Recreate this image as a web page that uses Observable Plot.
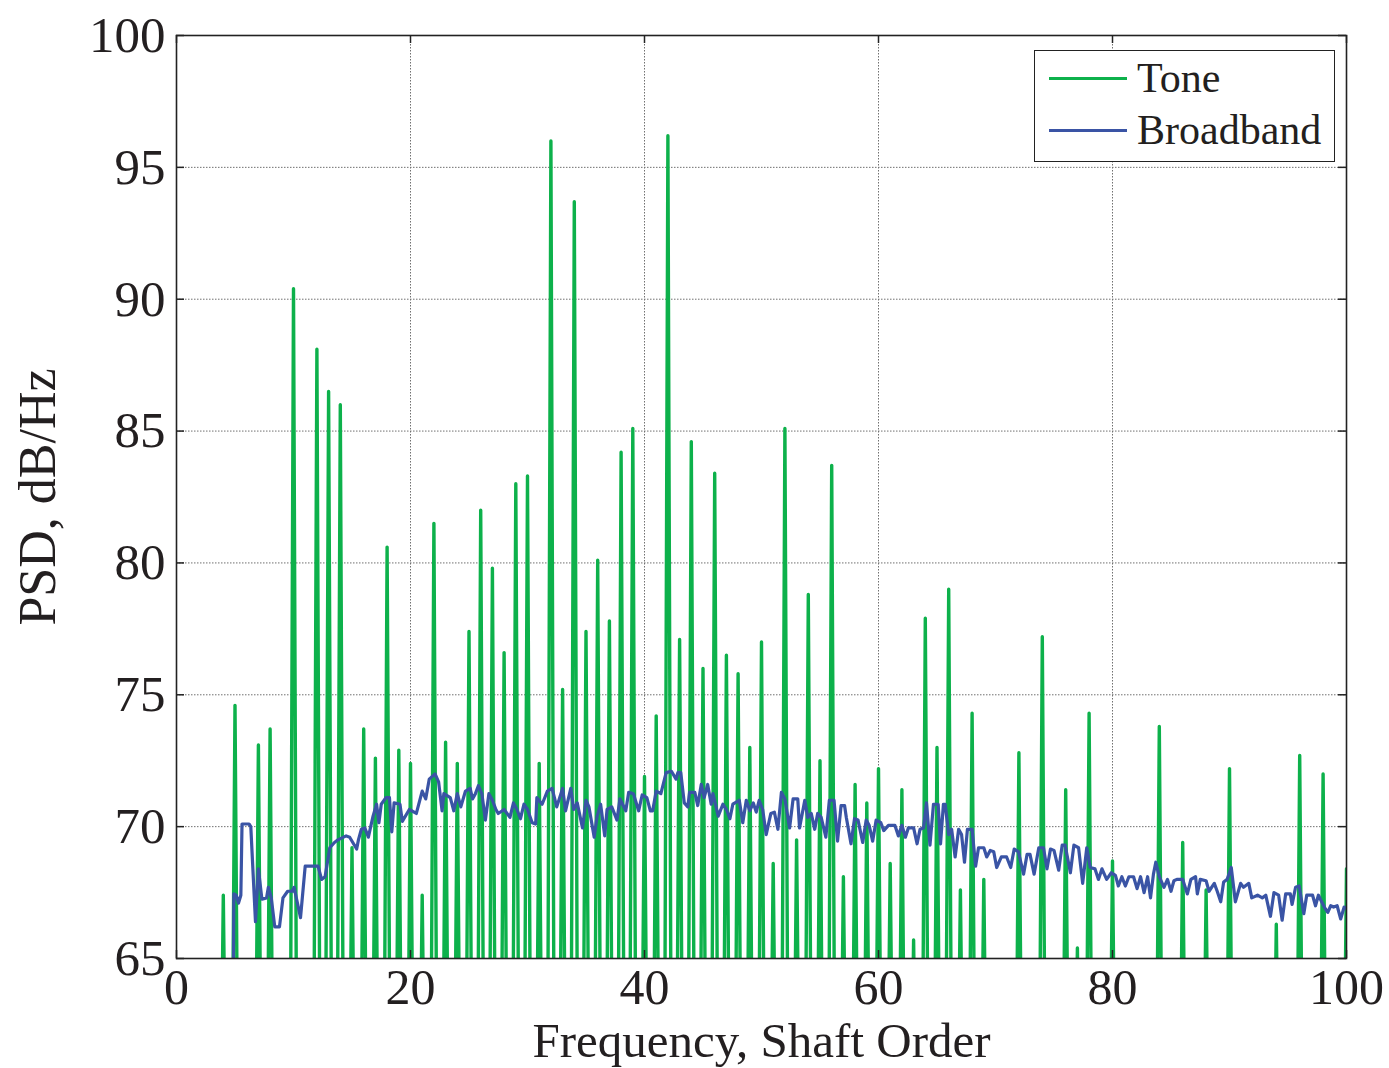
<!DOCTYPE html>
<html><head><meta charset="utf-8">
<script src="https://cdn.jsdelivr.net/npm/d3@7"></script>
<script src="https://cdn.jsdelivr.net/npm/@observablehq/plot@0.6"></script>
<style>
body{margin:0;background:#fff;}
#wrap{position:relative;width:1389px;height:1068px;overflow:hidden;}
#legend{position:absolute;left:1034px;top:50px;width:299px;height:110px;border:1.5px solid #222;background:#fff;font-family:"Liberation Serif","Times New Roman",serif;font-size:42px;color:#231f20;}
.row{position:absolute;left:0;height:52px;display:flex;align-items:center;white-space:nowrap;}
.sw{width:78px;height:0;border-top:3px solid;margin-left:14px;margin-right:10px;}
</style></head>
<body><div id="wrap"></div>
<script>
// ---- axis ticks ----
const xTicks = [0, 20, 40, 60, 80, 100];
const yTicks = [65, 70, 75, 80, 85, 90, 95, 100];
const xLabel = "Frequency, Shaft Order";
const yLabel = "PSD, dB/Hz";
const seriesNames = ["Tone", "Broadband"];
const seriesColors = ["#0db14b", "#3a54a5"];

// ---- Tone: harmonic peaks (shaft order, PSD dB/Hz); spectrum drops below 65 dB between them ----
const toneOrder = [4,5,7,8,10,12,13,14,15,16,17,18,19,20,21,22,23,24,25,26,27,28,29,30,31,32,33,34,35,36,37,38,39,40,41,42,43,44,45,46,47,48,49,50,51,52,53,54,55,56,57,58,59,60,61,62,63,64,65,66,67,68,69,72,74,76,77,78,80,84,86,88,90,94,96,98,100];
const tonePeak = [67.4,74.6,73.1,73.7,90.4,88.1,86.5,86.0,69.2,73.7,72.6,80.6,72.9,72.4,67.4,81.5,73.2,72.4,77.4,82.0,79.8,76.6,83.0,83.3,72.4,96.0,75.2,93.7,77.4,80.1,77.8,84.2,85.1,71.9,74.2,96.2,77.1,84.6,76.0,83.4,76.5,75.8,73.0,77.0,68.6,85.1,69.5,78.8,72.5,83.7,68.1,71.6,70.9,72.2,68.6,71.4,65.7,77.9,73.0,79.0,67.6,74.3,68.0,72.8,77.2,71.4,65.4,74.3,68.7,73.8,69.4,67.6,72.2,66.3,72.7,72.0,68.4];
const toneTrough = 55;      // level between harmonics (below the axis)
const toneHalfWidth = 0.32; // half bandwidth of a tone bin, in orders

// ---- Broadband ----
const broadbandOrder = [4.85,4.9,5.1,5.3,5.5,5.6,6.2,6.35,6.75,7.0,7.3,7.7,7.85,8.1,8.4,8.8,9.1,9.5,9.9,10.05,10.6,11.0,11.4,12.1,12.4,12.7,13.1,13.5,13.8,14.5,14.8,15.4,15.55,15.8,16.1,16.4,16.8,17.1,17.3,17.5,17.9,18.2,18.4,18.6,19.1,19.3,19.9,20.5,21.0,21.3,21.6,22.1,22.4,22.7,22.85,23.4,23.7,24.0,24.3,24.7,25.1,25.3,25.55,25.8,26.1,26.4,26.7,27.0,27.3,27.5,28.0,28.5,28.8,29.1,29.4,29.7,30.0,30.4,30.7,30.8,31.25,31.7,32.1,32.5,33.0,33.25,33.7,33.95,34.25,34.7,35.0,35.25,35.7,35.95,36.25,36.6,36.8,37.2,37.65,37.9,38.4,38.65,39.05,39.5,39.8,40.2,40.5,40.7,41.0,41.4,41.85,42.3,42.7,42.85,43.1,43.4,43.7,43.85,44.3,44.55,44.85,45.1,45.4,45.7,45.85,46.3,46.7,47.0,47.3,47.55,48.1,48.4,48.7,49.0,49.3,49.55,49.8,50.1,50.4,50.8,51.1,51.4,51.7,52.0,52.4,52.7,53.1,53.25,53.7,53.95,54.25,54.55,54.8,55.1,55.5,55.8,56.2,56.5,56.8,57.1,57.25,57.65,57.95,58.25,58.65,58.95,59.2,59.5,59.8,60.2,60.45,60.85,61.4,61.7,62.0,62.3,62.55,63.0,63.3,63.55,63.85,64.1,64.4,64.7,65.1,65.3,65.55,65.7,66.0,66.25,66.55,66.85,67.1,67.35,67.6,68.0,68.3,68.55,69.0,69.25,69.55,69.85,70.1,70.5,70.95,71.3,71.6,71.95,72.4,72.7,72.95,73.3,73.7,74.1,74.4,74.7,75.0,75.4,75.7,75.95,76.4,76.7,77.1,77.45,77.8,78.1,78.5,78.8,79.1,79.5,79.9,80.25,80.5,80.8,81.1,81.4,81.8,82.1,82.4,82.7,83.0,83.25,83.5,83.7,84.0,84.4,84.7,85.0,85.25,85.5,86.0,86.4,86.7,87.1,87.25,87.5,88.0,88.25,88.7,88.95,89.25,89.5,89.8,90.15,90.5,90.95,91.2,91.65,91.9,92.4,92.8,93.1,93.5,93.8,94.2,94.5,94.8,95.2,95.35,95.65,95.95,96.35,96.6,97.1,97.35,97.6,98.1,98.4,98.65,98.9,99.2,99.5,99.8,100.0];
const broadbandPSD = [63.5,67.45,67.4,67.1,67.4,70.1,70.1,70.0,66.4,68.4,67.25,67.3,67.7,67.3,66.2,66.2,67.3,67.55,67.55,67.7,66.55,68.5,68.5,68.5,68.0,68.1,69.2,69.4,69.5,69.65,69.6,69.15,69.5,69.9,69.95,69.6,70.4,70.85,70.15,70.85,71.1,71.1,69.8,70.9,70.85,70.2,70.65,70.5,71.35,71.05,71.8,72.0,71.7,70.6,71.25,71.1,70.6,71.25,70.75,71.35,71.45,71.05,71.25,71.55,71.25,70.25,71.25,71.0,70.65,70.5,70.65,70.35,70.9,70.65,70.3,70.85,70.65,70.15,70.1,71.1,70.85,71.35,71.45,70.75,71.45,70.6,71.45,70.65,70.9,69.95,71.0,70.75,69.6,70.4,70.85,69.65,70.65,70.75,70.25,71.05,70.6,71.3,71.25,70.6,71.2,71.1,70.6,70.6,71.35,71.25,72.05,72.1,71.8,72.05,72.05,70.9,70.75,71.3,71.3,70.8,71.6,71.1,71.6,70.85,71.25,70.4,70.85,70.65,70.3,70.85,71.0,70.15,71.0,70.6,70.9,70.55,71.0,70.65,69.7,70.5,70.55,69.9,71.3,71.05,69.95,71.05,71.05,69.95,71.0,70.35,70.5,69.9,70.5,70.35,69.6,71.0,71.0,69.45,70.8,70.8,70.35,69.35,70.3,70.25,69.4,70.25,70.05,69.45,70.25,70.15,69.85,70.05,70.05,69.65,70.05,69.6,69.95,69.95,69.35,69.9,69.95,70.9,69.3,70.85,70.85,69.35,70.85,70.85,69.7,69.9,68.85,69.9,69.7,68.65,69.9,69.9,68.5,69.2,69.2,68.85,69.1,69.05,68.45,68.85,68.85,68.45,69.15,69.05,68.2,68.95,68.95,68.2,69.2,69.2,68.4,69.15,69.1,68.35,69.3,69.3,68.25,69.3,69.2,67.85,69.2,68.45,68.4,68.0,68.4,68.0,68.25,68.15,67.75,68.1,67.75,68.1,68.1,67.65,68.1,67.5,68.1,67.3,68.2,68.65,68.1,67.7,68.0,67.55,67.95,68.0,68.0,67.45,68.0,68.1,67.45,68.0,67.95,67.55,67.85,67.55,67.15,67.9,68.0,68.45,67.15,67.85,67.7,67.85,67.3,67.4,67.3,67.4,66.6,67.5,67.4,66.45,67.45,67.45,67.05,67.7,67.75,66.7,67.4,67.4,67.0,67.4,66.95,66.75,67.0,66.95,67.0,66.5,66.95,66.9];

// ---- tables for the library ----
const tone = [];
toneOrder.forEach((o, i) => {
  tone.push({x: o - toneHalfWidth, y: toneTrough});
  tone.push({x: o, y: tonePeak[i]});
  tone.push({x: o + toneHalfWidth, y: toneTrough});
});
const broadband = broadbandOrder.map((o, i) => ({x: o, y: broadbandPSD[i]}));

const W = 1389, H = 1068, mL = 176, mR = 43, mT = 35, mB = 110;
const frameW = W - mL - mR, frameH = H - mT - mB, tickLen = 8;
const serif = '"Liberation Serif", "Times New Roman", serif';
const ink = "#231f20";

const chart = Plot.plot({
  width: W, height: H,
  marginLeft: mL, marginRight: mR, marginTop: mT, marginBottom: mB,
  style: {fontFamily: serif, background: "#fff", color: ink},
  x: {domain: [0, 100]},
  y: {domain: [65, 100]},
  marks: [
    Plot.gridX(xTicks, {stroke: "#707070", strokeOpacity: 1, strokeWidth: 1, strokeDasharray: "1.5,1.5"}),
    Plot.gridY(yTicks, {stroke: "#707070", strokeOpacity: 1, strokeWidth: 1, strokeDasharray: "1.5,1.5"}),
    Plot.line(tone, {x: "x", y: "y", stroke: seriesColors[0], strokeWidth: 3.4, strokeLinejoin: "round", clip: true}),
    Plot.line(broadband, {x: "x", y: "y", stroke: seriesColors[1], strokeWidth: 3.2, clip: true}),
    Plot.tickX(xTicks, {x: d => d, insetTop: frameH - tickLen, stroke: "#222", strokeWidth: 1.5}),
    Plot.tickX(xTicks, {x: d => d, insetBottom: frameH - tickLen, stroke: "#222", strokeWidth: 1.5}),
    Plot.tickY(yTicks, {y: d => d, insetRight: frameW - tickLen, stroke: "#222", strokeWidth: 1.5}),
    Plot.tickY(yTicks, {y: d => d, insetLeft: frameW - tickLen, stroke: "#222", strokeWidth: 1.5}),
    Plot.frame({stroke: "#222", strokeWidth: 1.6}),
    Plot.axisX(xTicks, {tickSize: 0, tickPadding: 9.5, fontSize: 50, label: null}),
    Plot.axisY(yTicks, {tickSize: 0, tickPadding: 11, fontSize: 51, label: null}),
    Plot.text([xLabel], {text: d => d, frameAnchor: "bottom", lineAnchor: "middle", textAnchor: "middle", dy: 83, fontSize: 49, fill: ink}),
    Plot.text([yLabel], {text: d => d, frameAnchor: "left", lineAnchor: "middle", textAnchor: "middle", dx: -138, rotate: -90, fontSize: 52, fill: ink})
  ]
});

const wrap = document.getElementById("wrap");
wrap.appendChild(chart);

const legend = document.createElement("div");
legend.id = "legend";
seriesNames.forEach((name, i) => {
  const row = document.createElement("div");
  row.className = "row";
  row.style.top = (i === 0 ? 1 : 53) + "px";
  const sw = document.createElement("span");
  sw.className = "sw";
  sw.style.borderTopColor = seriesColors[i];
  const t = document.createElement("span");
  t.textContent = name;
  row.appendChild(sw);
  row.appendChild(t);
  legend.appendChild(row);
});
wrap.appendChild(legend);
</script>
</body></html>
